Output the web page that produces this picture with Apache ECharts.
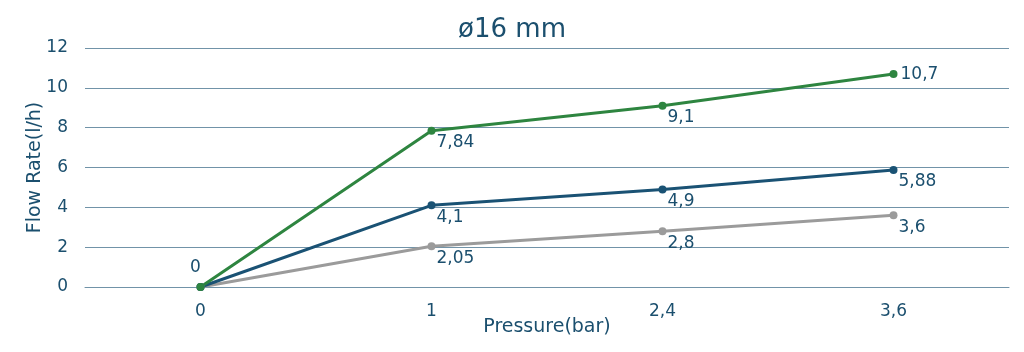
<!DOCTYPE html>
<html>
<head>
<meta charset="utf-8">
<script src="https://cdn.jsdelivr.net/npm/echarts@6/dist/echarts.min.js"></script>
<style>
  html, body { margin: 0; padding: 0; background: #fff; }
  #main { width: 1024px; height: 352px; }
</style>
</head>
<body>
<div id="main"></div>
<script>
var pressures = ['0', '1', '2,4', '3,6'];
var greenData = [0, 7.84, 9.1, 10.7];
var blueData = [0, 4.1, 4.9, 5.88];
var grayData = [0, 2.05, 2.8, 3.6];
var yTicks = [0, 2, 4, 6, 8, 10, 12];

var textColor = '#1b4f6e';
var gridColor = '#7193a8';
var font = 'DejaVu Sans';

function fmt(v) {
  return String(v).replace('.', ',');
}

function makeSeries(name, values, color, showZero) {
  return {
    name: name,
    type: 'line',
    data: values.map(function (v, i) {
      var item = { value: v };
      if (i === 0) {
        item.label = showZero
          ? { show: true, position: 'top', offset: [-5, -2] }
          : { show: false };
      }
      return item;
    }),
    symbol: 'circle',
    symbolSize: 8,
    lineStyle: { color: color, width: 3 },
    itemStyle: { color: color },
    label: {
      show: true,
      position: 'right',
      offset: [-4, 12],
      color: textColor,
      fontFamily: font,
      fontSize: 17,
      formatter: function (p) { return fmt(p.value); }
    }
  };
}

var myChart = echarts.init(document.getElementById('main'));

var green = makeSeries('green', greenData, '#2e8540', true);
green.data[3].label = { offset: [-2, 1] };

var option = {
  animation: false,
  title: {
    text: '\u00f816 mm',
    left: 'center',
    top: 12,
    textStyle: { color: textColor, fontFamily: font, fontSize: 26, fontWeight: 'normal' }
  },
  grid: { left: 85, right: 15, top: 48, bottom: 65 },
  xAxis: {
    type: 'category',
    data: pressures,
    boundaryGap: true,
    name: 'Pressure(bar)',
    nameLocation: 'middle',
    nameGap: 31,
    nameMoveOverlap: false,
    nameTextStyle: { color: textColor, fontFamily: font, fontSize: 19 },
    axisLine: { lineStyle: { color: gridColor, width: 1 } },
    axisTick: { show: false },
    axisLabel: { color: textColor, fontFamily: font, fontSize: 17, margin: 16 }
  },
  yAxis: {
    type: 'value',
    min: yTicks[0],
    max: yTicks[yTicks.length - 1],
    interval: 2,
    name: 'Flow Rate(l/h)',
    nameLocation: 'middle',
    nameGap: 40,
    nameMoveOverlap: false,
    nameTextStyle: { color: textColor, fontFamily: font, fontSize: 19 },
    axisLine: { show: false },
    axisTick: { show: false },
    axisLabel: { color: textColor, fontFamily: font, fontSize: 17, margin: 17 },
    splitLine: { lineStyle: { color: gridColor, width: 1 } }
  },
  series: [
    makeSeries('gray', grayData, '#9b9b9b', false),
    makeSeries('blue', blueData, '#1a5274', false),
    green
  ]
};

myChart.setOption(option);
</script>
</body>
</html>
